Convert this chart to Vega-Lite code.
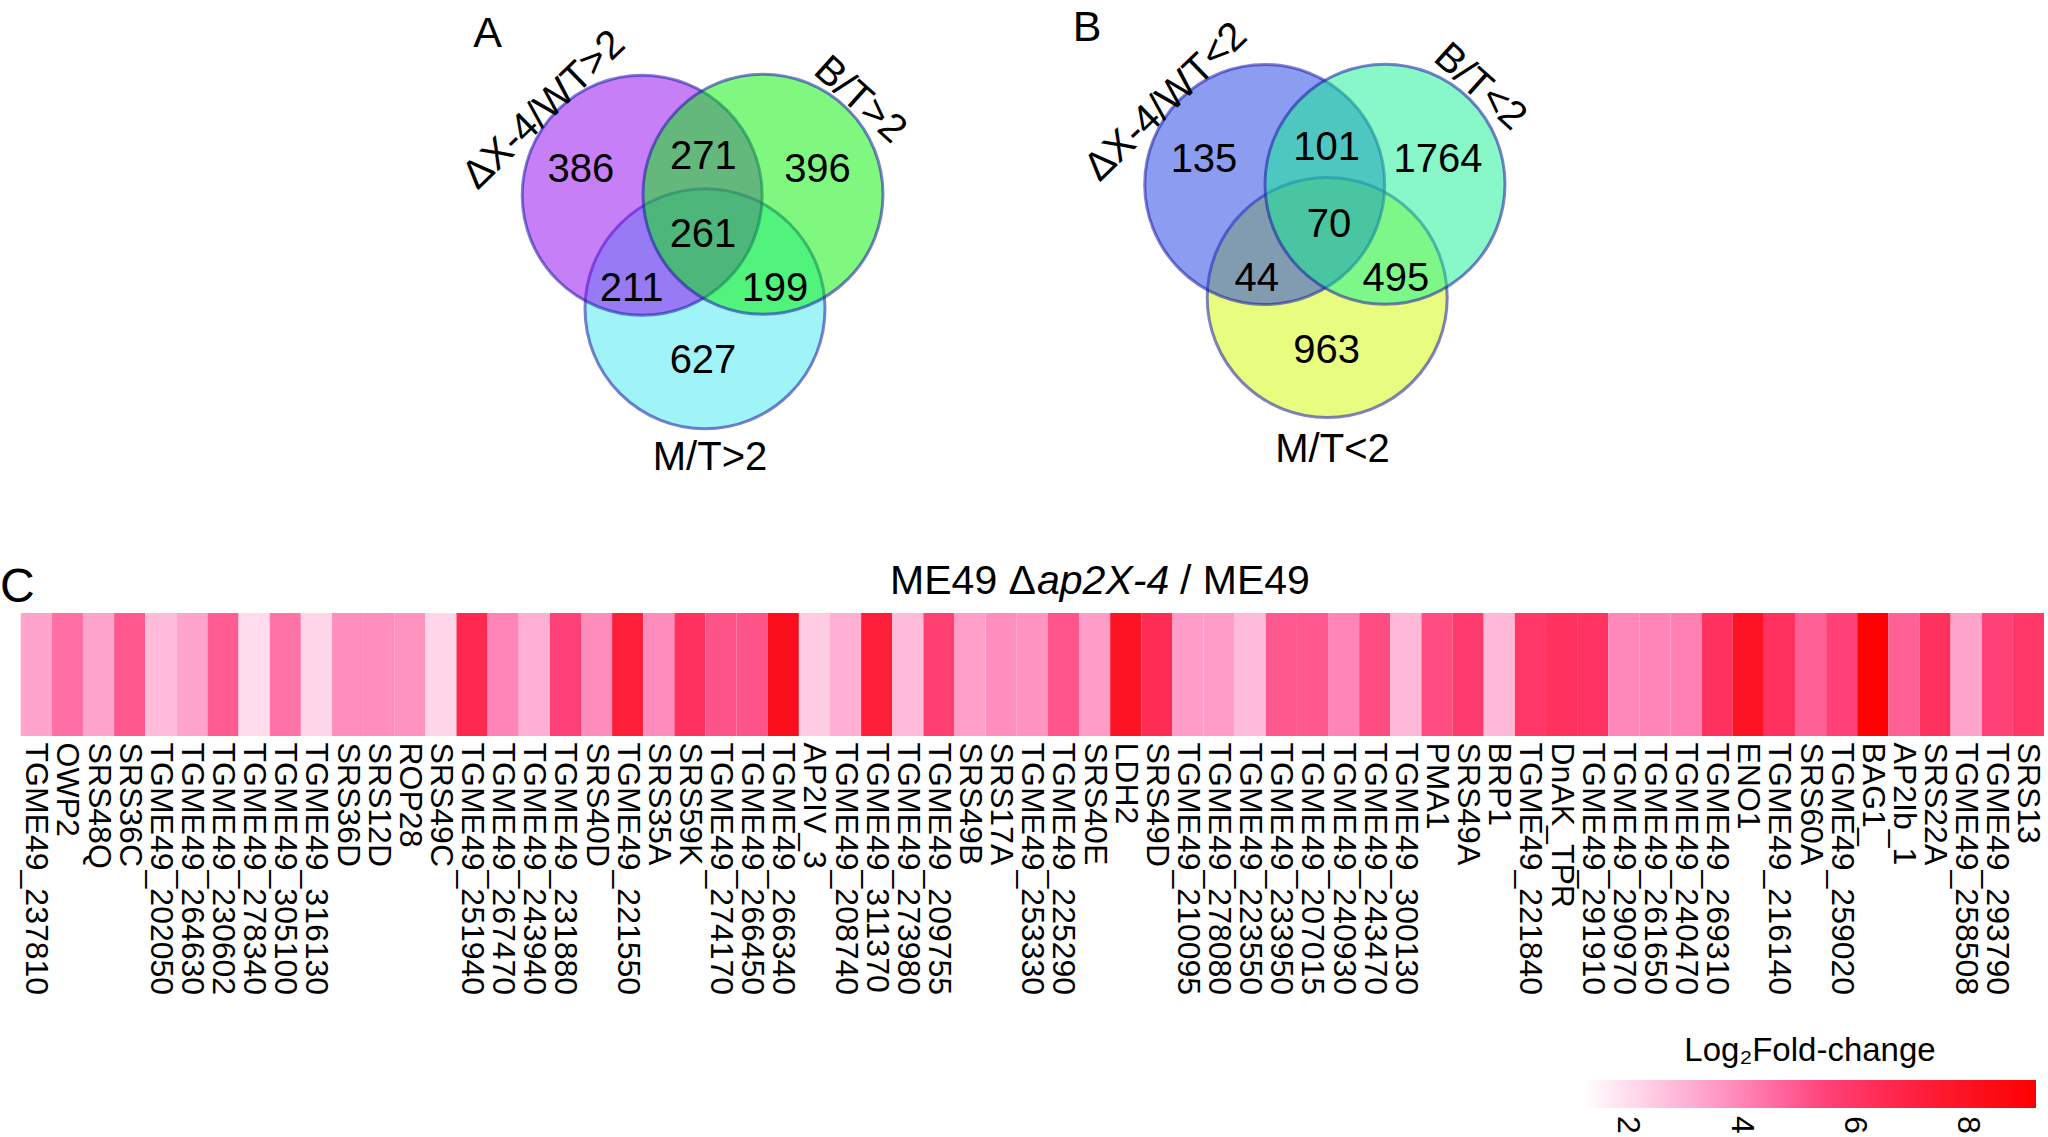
{
  "$schema": "https://vega.github.io/schema/vega-lite/v6.json",
  "padding": 0,
  "spacing": 0,
  "background": "white",
  "config": {"view": {"stroke": null}, "font": "Liberation Sans"},
  "datasets": {
    "circles": [
      {"set": "M/T>2", "x": 705, "y": 308.8},
      {"set": "ΔX-4/WT>2", "x": 642.2, "y": 195.2},
      {"set": "B/T>2", "x": 763, "y": 194.3},
      {"set": "M/T<2", "x": 1327.2, "y": 297.5},
      {"set": "ΔX-4/WT<2", "x": 1264.7, "y": 184.5},
      {"set": "B/T<2", "x": 1385, "y": 184.2}
    ],
    "counts": [
      {"n": "386", "x": 580.8, "y": 170},
      {"n": "271", "x": 703.3, "y": 157},
      {"n": "396", "x": 817.5, "y": 170},
      {"n": "261", "x": 703, "y": 235},
      {"n": "211", "x": 631.7, "y": 289},
      {"n": "199", "x": 775, "y": 289},
      {"n": "627", "x": 703, "y": 360.5},
      {"n": "135", "x": 1204, "y": 159.5},
      {"n": "101", "x": 1326.7, "y": 148},
      {"n": "1764", "x": 1438, "y": 159.5},
      {"n": "70", "x": 1329, "y": 225},
      {"n": "44", "x": 1256.7, "y": 279},
      {"n": "495", "x": 1395.8, "y": 279},
      {"n": "963", "x": 1326.7, "y": 350.5}
    ],
    "bottomSets": [
      {"t": "M/T>2", "x": 710, "y": 458},
      {"t": "M/T<2", "x": 1332.5, "y": 450}
    ],
    "leftSets": [
      {"t": "ΔX-4/WT>2", "x": 544, "y": 110},
      {"t": "ΔX-4/WT<2", "x": 1166, "y": 102}
    ],
    "rightSets": [
      {"t": "B/T>2", "x": 860, "y": 100},
      {"t": "B/T<2", "x": 1480, "y": 87}
    ],
    "panelsAB": [
      {"t": "A", "x": 487.5, "y": 34},
      {"t": "B", "x": 1087, "y": 28}
    ],
    "panelC": [{"t": "C", "x": 0, "y": 602}],
    "title1": [{"t": "ME49 Δ", "x": 1036, "y": 594}],
    "title2": [{"t": "ap2X-4", "x": 1037, "y": 594}],
    "title3": [{"t": "/ ME49", "x": 1180, "y": 594}],
    "genes": [
      {"gene": "TGME49_237810", "lfc": 3.3},
      {"gene": "OWP2", "lfc": 4.5},
      {"gene": "SRS48Q", "lfc": 3.3},
      {"gene": "SRS36C", "lfc": 5.0},
      {"gene": "TGME49_202050", "lfc": 2.8},
      {"gene": "TGME49_264630", "lfc": 3.3},
      {"gene": "TGME49_230602", "lfc": 4.9},
      {"gene": "TGME49_278340", "lfc": 2.05},
      {"gene": "TGME49_305100", "lfc": 4.4},
      {"gene": "TGME49_316130", "lfc": 2.2},
      {"gene": "SRS36D", "lfc": 3.8},
      {"gene": "SRS12D", "lfc": 3.8},
      {"gene": "ROP28", "lfc": 3.7},
      {"gene": "SRS49C", "lfc": 2.2},
      {"gene": "TGME49_251940", "lfc": 6.6},
      {"gene": "TGME49_267470", "lfc": 4.0},
      {"gene": "TGME49_243940", "lfc": 3.05},
      {"gene": "TGME49_231880", "lfc": 5.55},
      {"gene": "SRS40D", "lfc": 3.85},
      {"gene": "TGME49_221550", "lfc": 7.25},
      {"gene": "SRS35A", "lfc": 3.85},
      {"gene": "SRS59K", "lfc": 6.2},
      {"gene": "TGME49_274170", "lfc": 5.1},
      {"gene": "TGME49_266450", "lfc": 5.1},
      {"gene": "TGME49_266340", "lfc": 8.2},
      {"gene": "AP2IV_3", "lfc": 2.4},
      {"gene": "TGME49_208740", "lfc": 3.05},
      {"gene": "TGME49_311370", "lfc": 7.25},
      {"gene": "TGME49_273980", "lfc": 2.8},
      {"gene": "TGME49_209755", "lfc": 5.6},
      {"gene": "SRS49B", "lfc": 3.45},
      {"gene": "SRS17A", "lfc": 3.76},
      {"gene": "TGME49_253330", "lfc": 3.67},
      {"gene": "TGME49_225290", "lfc": 5.06},
      {"gene": "SRS40E", "lfc": 3.5},
      {"gene": "LDH2", "lfc": 7.9},
      {"gene": "SRS49D", "lfc": 6.4},
      {"gene": "TGME49_210095", "lfc": 3.5},
      {"gene": "TGME49_278080", "lfc": 3.5},
      {"gene": "TGME49_223550", "lfc": 2.8},
      {"gene": "TGME49_233950", "lfc": 5.0},
      {"gene": "TGME49_207015", "lfc": 5.0},
      {"gene": "TGME49_240930", "lfc": 4.0},
      {"gene": "TGME49_243470", "lfc": 5.27},
      {"gene": "TGME49_300130", "lfc": 2.86},
      {"gene": "PMA1", "lfc": 5.27},
      {"gene": "SRS49A", "lfc": 5.8},
      {"gene": "BRP1", "lfc": 2.86},
      {"gene": "TGME49_221840", "lfc": 5.9},
      {"gene": "DnAK_TPR", "lfc": 6.2},
      {"gene": "TGME49_291910", "lfc": 6.07},
      {"gene": "TGME49_290970", "lfc": 3.93},
      {"gene": "TGME49_261650", "lfc": 4.0},
      {"gene": "TGME49_240470", "lfc": 4.1},
      {"gene": "TGME49_269310", "lfc": 6.2},
      {"gene": "ENO1", "lfc": 7.9},
      {"gene": "TGME49_216140", "lfc": 6.2},
      {"gene": "SRS60A", "lfc": 4.8},
      {"gene": "TGME49_259020", "lfc": 5.55},
      {"gene": "BAG1_", "lfc": 9.1},
      {"gene": "AP2Ib_1", "lfc": 4.8},
      {"gene": "SRS22A", "lfc": 6.2},
      {"gene": "TGME49_258508", "lfc": 3.3},
      {"gene": "TGME49_293790", "lfc": 5.55},
      {"gene": "SRS13", "lfc": 5.9}
    ]
  },
  "vconcat": [
    {
      "width": 2048,
      "height": 613,
      "encoding": {
        "x": {"field": "x", "type": "quantitative", "scale": {"domain": [0, 2048], "nice": false, "zero": false}, "axis": null},
        "y": {"field": "y", "type": "quantitative", "scale": {"domain": [0, 613], "nice": false, "zero": false, "reverse": true}, "axis": null}
      },
      "layer": [
        {
          "data": {"name": "circles"},
          "mark": {"type": "point", "shape": "circle", "filled": true, "size": 57600, "opacity": 1, "fillOpacity": 0.5, "stroke": "#1a1aa8", "strokeOpacity": 0.55, "strokeWidth": 3},
          "encoding": {
            "color": {"field": "set", "type": "nominal", "legend": null,
              "scale": {"domain": ["M/T>2", "ΔX-4/WT>2", "B/T>2", "M/T<2", "ΔX-4/WT<2", "B/T<2"],
                        "range": ["#41e9f1", "#8f00ef", "#01f101", "#d1f900", "#1939e1", "#11f191"]}}
          }
        },
        {
          "data": {"name": "counts"},
          "mark": {"type": "text", "fontSize": 40, "align": "center", "baseline": "middle", "color": "black"},
          "encoding": {"text": {"field": "n", "type": "nominal"}}
        },
        {
          "data": {"name": "bottomSets"},
          "mark": {"type": "text", "fontSize": 40, "align": "center", "baseline": "middle", "color": "black"},
          "encoding": {"text": {"field": "t", "type": "nominal"}}
        },
        {
          "data": {"name": "leftSets"},
          "mark": {"type": "text", "fontSize": 40, "align": "center", "baseline": "middle", "color": "black", "angle": -44},
          "encoding": {"text": {"field": "t", "type": "nominal"}}
        },
        {
          "data": {"name": "rightSets"},
          "mark": {"type": "text", "fontSize": 40, "align": "center", "baseline": "middle", "color": "black", "angle": 42},
          "encoding": {"text": {"field": "t", "type": "nominal"}}
        },
        {
          "data": {"name": "panelsAB"},
          "mark": {"type": "text", "fontSize": 43, "align": "center", "baseline": "middle", "color": "black"},
          "encoding": {"text": {"field": "t", "type": "nominal"}}
        },
        {
          "data": {"name": "panelC"},
          "mark": {"type": "text", "fontSize": 48, "align": "left", "baseline": "alphabetic", "color": "black"},
          "encoding": {"text": {"field": "t", "type": "nominal"}}
        },
        {
          "data": {"name": "title1"},
          "mark": {"type": "text", "fontSize": 41, "align": "right", "baseline": "alphabetic", "color": "black"},
          "encoding": {"text": {"field": "t", "type": "nominal"}}
        },
        {
          "data": {"name": "title2"},
          "mark": {"type": "text", "fontSize": 41, "align": "left", "baseline": "alphabetic", "fontStyle": "italic", "color": "black"},
          "encoding": {"text": {"field": "t", "type": "nominal"}}
        },
        {
          "data": {"name": "title3"},
          "mark": {"type": "text", "fontSize": 41, "align": "left", "baseline": "alphabetic", "color": "black"},
          "encoding": {"text": {"field": "t", "type": "nominal"}}
        }
      ]
    },
    {
      "width": 2044,
      "height": 123,
      "data": {"name": "genes"},
      "mark": {"type": "rect"},
      "encoding": {
        "x": {
          "field": "gene", "type": "nominal", "sort": null,
          "scale": {"paddingInner": 0, "paddingOuter": 0.3325, "align": 1, "round": false},
          "axis": {"orient": "bottom", "domain": false, "ticks": false, "tickSize": 0, "labelAngle": 90, "labelAlign": "left", "labelBaseline": "middle", "labelPadding": 6, "labelFontSize": 32, "labelFont": "Liberation Sans", "labelColor": "black", "labelLimit": 600, "labelOverlap": false, "labelFlush": false, "title": null, "grid": false}
        },
        "color": {
          "field": "lfc", "type": "quantitative",
          "scale": {"domain": [1.2, 2.5, 3.5, 4.5, 5.5, 6.5, 7.5, 9.2],
                    "range": ["#ffffff", "#ffc8e2", "#ff9cc7", "#ff6ea4", "#ff4279", "#ff2a52", "#fc1a30", "#fc0000"],
                    "interpolate": "rgb"},
          "legend": {
            "orient": "none", "legendX": 1583, "legendY": 422, "direction": "horizontal",
            "gradientLength": 453, "gradientThickness": 28, "gradientStrokeWidth": 0,
            "title": "Log₂Fold-change", "titleFontSize": 33, "titleFontWeight": "normal", "titleColor": "black", "titleFont": "Liberation Sans",
            "titleAnchor": "middle", "titlePadding": 12, "titleLimit": 800, "padding": 0,
            "labelFontSize": 32, "labelColor": "black", "labelFont": "Liberation Sans", "labelOffset": 8, "values": [2, 4, 6, 8],
            "encode": {"labels": {"update": {"angle": {"value": 90}, "align": {"value": "left"}, "baseline": {"value": "middle"}}}}
          }
        }
      }
    }
  ]
}
